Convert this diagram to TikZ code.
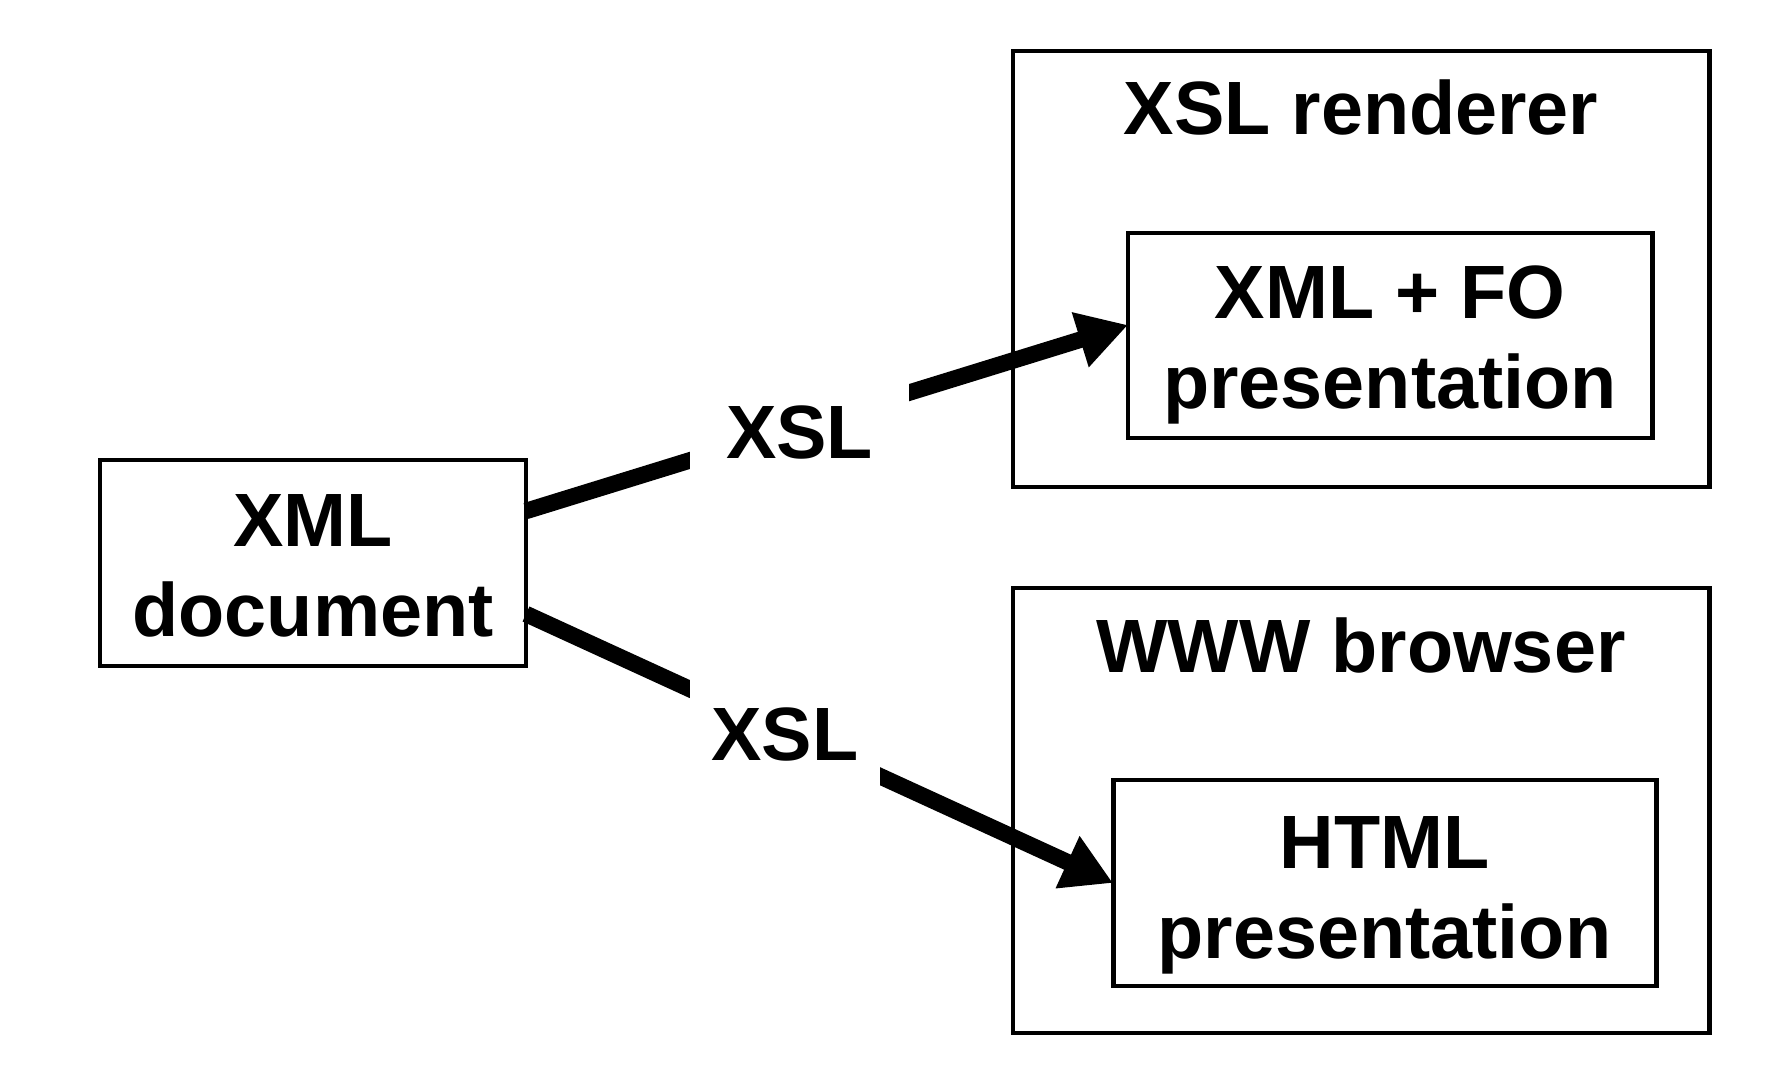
\documentclass[tikz,border=0pt]{standalone}
\usepackage{fontspec}
\setmainfont{Liberation Sans}
\usepackage{tikz}
\usetikzlibrary{arrows.meta}

\newcommand{\boxfont}{\fontsize{21.5}{25.6}\selectfont\bfseries}

\begin{document}
\begin{tikzpicture}
  [box/.style={draw,line width=1.42pt,outer sep=0pt,align=center,font=\boxfont},
   title/.style={anchor=base,font=\boxfont},
   xsl/.style={fill=white,inner sep=0pt,font=\boxfont},
   flow/.style={line width=0.165cm,-{Triangle[length=5mm,width=5.4mm]}}]

  \useasboundingbox (0,0) rectangle (17.71,10.70);

  % source document
  \node[box,minimum width=4.26cm,minimum height=2.06cm] (doc) at (3.13,5.07)
    {\rule{0pt}{0.58cm}XML\\document};

  % XSL renderer
  \node[box,minimum width=6.96cm,minimum height=4.36cm] (rend) at (13.61,8.01) {};
  \node[title] (rendname) at (13.61,9.35) {XSL renderer};
  \node[box,minimum width=5.24cm,minimum height=2.05cm] (fo) at (13.90,7.345)
    {\rule{0pt}{0.71cm}XML + FO\\presentation};

  % WWW browser
  \node[box,minimum width=6.96cm,minimum height=4.45cm] (brow) at (13.61,2.595) {};
  \node[title] (browname) at (13.61,3.98) {WWW browser};
  \node[box,minimum width=5.43cm,minimum height=2.06cm] (html) at (13.845,1.87)
    {\rule{0pt}{0.76cm}HTML\\presentation};

  \coordinate (s1) at ([yshift=5.2mm]doc.east);
  \coordinate (s2) at ([yshift=-5.1mm]doc.east);
  \coordinate (t1) at ([yshift=1.05mm]fo.west);

  \foreach \from/\to in {s1/t1,s2/html.west}
    \draw[flow] (\from) -- (\to);

  \node[xsl,minimum width=2.19cm,minimum height=1.15cm] (xsl1) at (7.995,6.375) {XSL};
  \node[xsl,minimum width=1.90cm,minimum height=1.2cm] (xsl2) at (7.85,3.355) {XSL};
\end{tikzpicture}
\end{document}
